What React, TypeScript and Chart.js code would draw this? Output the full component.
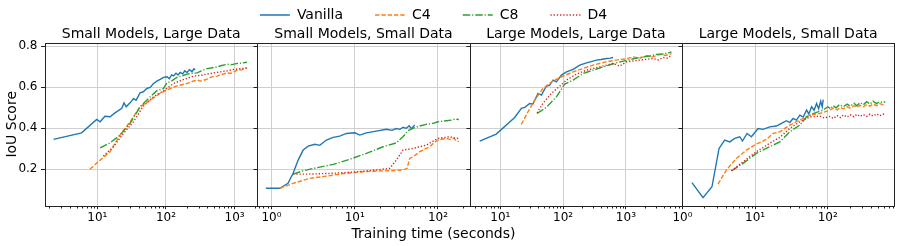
import React, { useEffect, useRef } from 'react';
import { Chart, registerables } from 'chart.js';

Chart.register(...registerables);

// ---------- labels ----------
const seriesNames = ['Vanilla', 'C4', 'C8', 'D4'];
const panelTitles = [
  'Small Models, Large Data',
  'Small Models, Small Data',
  'Large Models, Large Data',
  'Large Models, Small Data',
];
const xTitle = 'Training time (seconds)';
const yTitle = 'IoU Score';
const yTicks = [0.2, 0.4, 0.6, 0.8];
const yRange = [0.023, 0.816];

// x-axis limits per panel (log scale) and labelled decades
const p1Range = [1.73, 2140];
const p2Range = [0.676, 240];
const p3Range = [3.24, 7820];
const p4Range = [0.985, 826];
const p1Decades = [1, 10, 100, 1000];
const p2Decades = [0.1, 1, 10, 100];
const p3Decades = [1, 10, 100, 1000];
const p4Decades = [0.1, 1, 10, 100];

// ---------- Panel 1: Small Models, Large Data ----------
const p1VanillaT = [2.3, 5.9, 9.8, 11, 12.9, 15.3, 18.1, 22.7, 24.5, 26.3, 30, 33.6, 36.7, 42, 46.8, 52.5, 58.7, 65.8, 73.6, 82.3, 92, 103, 112, 121, 129, 140, 150, 161, 175, 188, 202, 220, 240, 255, 267];
const p1VanillaV = [0.346, 0.378, 0.443, 0.432, 0.459, 0.456, 0.475, 0.497, 0.524, 0.505, 0.524, 0.544, 0.537, 0.573, 0.578, 0.594, 0.599, 0.618, 0.630, 0.638, 0.648, 0.651, 0.642, 0.660, 0.655, 0.668, 0.660, 0.672, 0.665, 0.680, 0.672, 0.686, 0.676, 0.690, 0.684];
const p1C4T = [7.8, 11, 15.3, 21.4, 30, 42, 58.7, 82, 103, 144, 202, 240, 282, 330, 395, 460, 553, 650, 776, 900, 1084, 1300, 1515];
const p1C4V = [0.201, 0.245, 0.286, 0.367, 0.432, 0.505, 0.537, 0.570, 0.586, 0.607, 0.618, 0.628, 0.635, 0.630, 0.640, 0.650, 0.654, 0.662, 0.670, 0.668, 0.683, 0.686, 0.694];
const p1C8T = [11, 15.3, 21.4, 30, 42, 58.7, 73.6, 92, 103, 120, 144, 170, 202, 240, 282, 330, 395, 460, 553, 650, 776, 920, 1084, 1300, 1515];
const p1C8V = [0.305, 0.329, 0.367, 0.424, 0.505, 0.553, 0.583, 0.594, 0.621, 0.630, 0.648, 0.655, 0.664, 0.668, 0.670, 0.680, 0.691, 0.694, 0.699, 0.706, 0.712, 0.710, 0.716, 0.718, 0.722];
const p1D4T = [12.2, 17.2, 24, 33.6, 46.8, 65.8, 92, 129, 180, 252, 320, 395, 500, 620, 780, 975, 1200, 1515];
const p1D4V = [0.265, 0.310, 0.375, 0.432, 0.508, 0.553, 0.583, 0.618, 0.638, 0.654, 0.658, 0.664, 0.670, 0.675, 0.680, 0.687, 0.690, 0.694];

// ---------- Panel 2: Small Models, Small Data ----------
const p2VanillaT = [0.855, 1.26, 1.58, 1.82, 2.09, 2.4, 2.76, 3.31, 3.8, 4.57, 5.5, 6.6, 7.94, 10, 11.5, 13.8, 18.2, 24, 28, 31.6, 35, 38, 41.7, 45, 48, 52.5];
const p2VanillaV = [0.108, 0.108, 0.132, 0.181, 0.245, 0.294, 0.313, 0.322, 0.317, 0.343, 0.356, 0.362, 0.375, 0.378, 0.367, 0.378, 0.386, 0.395, 0.390, 0.399, 0.395, 0.405, 0.400, 0.412, 0.398, 0.416];
const p2C4T = [1.26, 1.82, 2.88, 4.57, 7.24, 11.5, 18.2, 26.3, 38, 42.6, 45.7, 50, 60.3, 70, 79.4, 90, 100, 115, 126, 140, 155, 165, 178];
const p2C4V = [0.108, 0.132, 0.156, 0.167, 0.179, 0.187, 0.192, 0.193, 0.197, 0.205, 0.253, 0.261, 0.286, 0.300, 0.310, 0.330, 0.343, 0.348, 0.351, 0.345, 0.352, 0.340, 0.335];
const p2C8T = [1.82, 2.4, 3.47, 5.5, 8.7, 13.8, 21.9, 31.6, 38, 43.6, 50, 60.3, 70, 87, 100, 126, 145, 160, 178];
const p2C8V = [0.177, 0.193, 0.208, 0.224, 0.249, 0.278, 0.310, 0.329, 0.359, 0.388, 0.400, 0.411, 0.418, 0.424, 0.432, 0.437, 0.440, 0.445, 0.443];
const p2D4T = [1.82, 2.88, 5.5, 10.5, 18.2, 26.3, 31.6, 38, 50, 72.4, 100, 120, 138, 160, 178];
const p2D4V = [0.177, 0.177, 0.181, 0.188, 0.197, 0.205, 0.245, 0.294, 0.302, 0.318, 0.351, 0.355, 0.359, 0.352, 0.351];

// ---------- Panel 3: Large Models, Large Data ----------
const p3VanillaT = [4.68, 8.6, 16.9, 21.6, 24.5, 29.3, 33, 39.8, 45, 54, 61, 69, 78, 94, 113, 144, 184, 236, 280, 339, 400, 490, 560, 625];
const p3VanillaV = [0.338, 0.372, 0.453, 0.497, 0.502, 0.521, 0.518, 0.570, 0.562, 0.605, 0.610, 0.635, 0.626, 0.659, 0.675, 0.687, 0.708, 0.719, 0.725, 0.732, 0.735, 0.740, 0.742, 0.745];
const p3C4T = [21.6, 27.5, 35.2, 47.6, 69, 100, 144, 207, 300, 490, 795, 1000, 1300, 1700, 2130, 2700, 3470, 4300, 5330];
const p3C4V = [0.419, 0.480, 0.537, 0.594, 0.631, 0.654, 0.675, 0.691, 0.708, 0.724, 0.735, 0.738, 0.748, 0.742, 0.753, 0.748, 0.760, 0.755, 0.764];
const p3C8T = [38.4, 54, 78, 106, 144, 207, 300, 432, 708, 1150, 1500, 1880, 2400, 3090, 4000, 5330];
const p3C8V = [0.472, 0.502, 0.553, 0.615, 0.635, 0.667, 0.683, 0.699, 0.719, 0.735, 0.742, 0.748, 0.752, 0.760, 0.762, 0.772];
const p3D4T = [38.4, 47.6, 65, 88, 113, 163, 236, 380, 625, 795, 1020, 1300, 1660, 2100, 2690, 3300, 3890, 4600, 5330];
const p3D4V = [0.475, 0.521, 0.570, 0.605, 0.635, 0.664, 0.683, 0.699, 0.716, 0.703, 0.724, 0.728, 0.732, 0.736, 0.740, 0.733, 0.745, 0.742, 0.756];

// ---------- Panel 4: Large Models, Small Data ----------
const p4VanillaT = [1.35, 1.92, 2.55, 3.19, 3.82, 4.48, 5.25, 6.15, 6.7, 7.76, 8.9, 11, 12.9, 15.9, 19.7, 23.1, 27.1, 30, 33.4, 37, 41.4, 46, 51.2, 55, 60, 65, 70.3, 75, 80, 84, 86.7];
const p4VanillaV = [0.135, 0.062, 0.115, 0.302, 0.343, 0.334, 0.351, 0.359, 0.338, 0.375, 0.359, 0.399, 0.395, 0.407, 0.411, 0.424, 0.437, 0.428, 0.448, 0.440, 0.464, 0.455, 0.489, 0.470, 0.505, 0.488, 0.521, 0.495, 0.532, 0.505, 0.540];
const p4C4T = [3.09, 4.03, 5.53, 7.6, 10.4, 14.4, 17.7, 21.9, 30.1, 41.4, 56.9, 78, 107, 120, 135, 150, 164, 185, 205, 230, 251, 280, 310, 345, 382, 420, 470, 520, 583, 620];
const p4C4V = [0.128, 0.197, 0.253, 0.294, 0.323, 0.346, 0.375, 0.383, 0.416, 0.440, 0.464, 0.472, 0.489, 0.498, 0.490, 0.502, 0.495, 0.505, 0.498, 0.510, 0.502, 0.512, 0.505, 0.515, 0.508, 0.518, 0.510, 0.520, 0.515, 0.518];
const p4C8T = [4.72, 6.84, 10.4, 15.9, 21.9, 30.1, 41.4, 51.2, 63, 86.7, 100, 110, 119, 130, 145, 164, 185, 205, 230, 251, 280, 310, 345, 382, 420, 470, 520, 583, 620];
const p4C8V = [0.193, 0.229, 0.278, 0.310, 0.334, 0.383, 0.416, 0.456, 0.472, 0.489, 0.505, 0.495, 0.510, 0.500, 0.515, 0.505, 0.518, 0.508, 0.522, 0.510, 0.525, 0.515, 0.530, 0.518, 0.532, 0.520, 0.530, 0.525, 0.530];
const p4D4T = [4.72, 6.84, 10.4, 15.9, 21.9, 30.1, 41.4, 56.9, 78, 90, 107, 120, 135, 150, 164, 185, 205, 230, 251, 280, 310, 345, 382, 420, 470, 520, 583, 620];
const p4D4V = [0.193, 0.237, 0.286, 0.327, 0.356, 0.399, 0.432, 0.456, 0.459, 0.450, 0.458, 0.448, 0.462, 0.452, 0.465, 0.455, 0.466, 0.456, 0.468, 0.458, 0.467, 0.458, 0.469, 0.460, 0.470, 0.461, 0.469, 0.463];

const panels = [
  { range: p1Range, decades: p1Decades, series: [[p1VanillaT, p1VanillaV], [p1C4T, p1C4V], [p1C8T, p1C8V], [p1D4T, p1D4V]] },
  { range: p2Range, decades: p2Decades, series: [[p2VanillaT, p2VanillaV], [p2C4T, p2C4V], [p2C8T, p2C8V], [p2D4T, p2D4V]] },
  { range: p3Range, decades: p3Decades, series: [[p3VanillaT, p3VanillaV], [p3C4T, p3C4V], [p3C8T, p3C8V], [p3D4T, p3D4V]] },
  { range: p4Range, decades: p4Decades, series: [[p4VanillaT, p4VanillaV], [p4C4T, p4C4V], [p4C8T, p4C8V], [p4D4T, p4D4V]] },
];

// ---------- styles ----------
const colors = ['#1f77b4', '#ff7f0e', '#2ca02c', '#d62728'];
const dashes = [[], [4.4, 1.9], [7.5, 1.9, 1.2, 1.9], [1.3, 1.9]];
const LINE_W = 1.4;
const GRID = '#cfcfcf';
const SPINE = '#222';
const FONT = 'DejaVu Sans';

const SUP: Record<string, string> = { '-': '⁻', '0': '⁰', '1': '¹', '2': '²', '3': '³', '4': '⁴', '5': '⁵' };
const isDecade = (v: number) => v > 0 && Math.abs(Math.log10(v) - Math.round(Math.log10(v))) < 1e-9;
const decadeLabel = (v: number) => '10' + String(Math.round(Math.log10(v))).split('').map((c) => SUP[c] || c).join('');

function logTicks(range: number[], decades: number[]) {
  const out: number[] = [];
  decades.forEach((d) => {
    for (let k = 1; k <= 9; k++) {
      const v = +(k * d).toPrecision(6);
      if (v >= range[0] && v <= range[1]) out.push(v);
    }
  });
  return out;
}

const panelFramePlugin = {
  id: 'panelFrames',
  afterDatasetsDraw(chart: any) {
    const { ctx, chartArea } = chart;
    const ys = chart.scales.y;
    ctx.save();
    ctx.strokeStyle = SPINE;
    ctx.lineWidth = 1;
    const top = Math.round(chartArea.top) + 0.5;
    const bottom = Math.round(chartArea.bottom) + 0.5;
    panels.forEach((_, i) => {
      const s = chart.scales['x' + (i + 1)];
      const l = Math.round(s.left) + 0.5;
      const r = Math.round(s.right) + 0.5;
      ctx.strokeRect(l, top, r - l, bottom - top);
      // minor x ticks (shorter than the major ones)
      s.ticks.forEach((t: any) => {
        if (isDecade(t.value)) return;
        const px = Math.round(s.getPixelForValue(t.value)) + 0.5;
        ctx.beginPath();
        ctx.moveTo(px, bottom);
        ctx.lineTo(px, bottom + 2);
        ctx.stroke();
      });
      if (i > 0) {
        yTicks.forEach((v) => {
          const py = Math.round(ys.getPixelForValue(v)) + 0.5;
          ctx.beginPath();
          ctx.moveTo(l - 4, py);
          ctx.lineTo(l, py);
          ctx.stroke();
        });
      }
    });
    ctx.restore();
  },
};

export default function App() {
  const ref = useRef<HTMLCanvasElement | null>(null);

  useEffect(() => {
    if (!ref.current) return;
    Chart.defaults.font.family = FONT;
    Chart.defaults.color = '#000';

    const datasets: any[] = [];
    panels.forEach((p, pi) => {
      p.series.forEach(([ts, vs], si) => {
        datasets.push({
          label: seriesNames[si],
          data: ts.map((t, k) => ({ x: t, y: vs[k] })),
          xAxisID: 'x' + (pi + 1),
          yAxisID: 'y',
          borderColor: colors[si],
          backgroundColor: colors[si],
          borderWidth: LINE_W,
          borderDash: dashes[si],
          pointRadius: 0,
          tension: 0,
          fill: false,
          order: 4 - si,
        });
      });
    });

    const scales: any = {
      y: {
        type: 'linear',
        position: 'left',
        min: yRange[0],
        max: yRange[1],
        bounds: 'data',
        afterBuildTicks: (s: any) => {
          s.ticks = yTicks.map((v) => ({ value: v }));
        },
        afterFit: (s: any) => {
          s.width = 72.3;
        },
        ticks: { callback: (v: any) => Number(v).toFixed(1), font: { size: 12 }, padding: 3.5, color: '#000' },
        grid: { color: GRID, tickColor: SPINE, tickLength: 4, lineWidth: 1 },
        border: { display: false },
        title: { display: true, text: yTitle, font: { size: 14 }, padding: { top: 30.9, bottom: 0 }, color: '#000' },
      },
    };

    panels.forEach((p, i) => {
      const ticks = logTicks(p.range, p.decades);
      scales['x' + (i + 1)] = {
        type: 'logarithmic',
        position: 'bottom',
        stack: 'panelsBottom',
        stackWeight: 1,
        min: p.range[0],
        max: p.range[1],
        bounds: 'data',
        afterBuildTicks: (s: any) => {
          s.ticks = ticks.map((v) => ({ value: v }));
        },
        afterFit: (s: any) => {
          s.height = 20;
        },
        ticks: {
          autoSkip: false,
          maxRotation: 0,
          minRotation: 0,
          padding: 1.5,
          font: { size: 12 },
          color: '#000',
          callback: (v: any) => (isDecade(Number(v)) ? decadeLabel(Number(v)) : ''),
        },
        grid: {
          color: (c: any) => (c.tick && isDecade(c.tick.value) ? GRID : 'rgba(0,0,0,0)'),
          tickColor: (c: any) => (c.tick && isDecade(c.tick.value) ? SPINE : 'rgba(0,0,0,0)'),
          tickLength: 3.5,
          lineWidth: 1,
        },
        border: { display: false },
      };
      scales['t' + (i + 1)] = {
        type: 'linear',
        position: 'top',
        stack: 'panelsTop',
        stackWeight: 1,
        weight: panels.length - i,
        display: true,
        min: 0,
        max: 1,
        afterFit: (s: any) => {
          s.height = 20.8;
        },
        grid: { display: false, drawTicks: false },
        ticks: { display: false },
        border: { display: false },
        title: { display: true, text: panelTitles[i], font: { size: 14 }, padding: { top: 4, bottom: 0 }, color: '#000' },
      };
    });

    const defaultLabels = (Chart.defaults as any).plugins.legend.labels.generateLabels;

    const chart = new Chart(ref.current, {
      type: 'line',
      data: { datasets },
      options: {
        animation: false,
        responsive: false,
        maintainAspectRatio: false,
        layout: { padding: { left: -27.3, right: 5.7, top: -24, bottom: 3.5 } },
        scales,
        plugins: {
          legend: {
            display: true,
            position: 'top',
            align: 'center',
            maxHeight: 46.1,
            labels: {
              usePointStyle: true,
              pointStyle: 'line',
              pointStyleWidth: 30,
              padding: 32,
              font: { size: 14 },
              color: '#000',
              generateLabels: (c: any) =>
                defaultLabels(c).map((item: any) => {
                  const ds = c.data.datasets[item.datasetIndex];
                  return { ...item, lineDash: ds.borderDash, lineWidth: ds.borderWidth, strokeStyle: ds.borderColor };
                }),
              filter: (item: any) => item.datasetIndex < 4,
              sort: (a: any, b: any) => a.datasetIndex - b.datasetIndex,
            },
          },
          title: {
            display: true,
            position: 'bottom',
            text: xTitle,
            font: { size: 14, weight: 'normal' },
            padding: { top: 0, bottom: 0 },
            color: '#000',
          },
          tooltip: { enabled: false },
        },
      } as any,
      plugins: [panelFramePlugin],
    });

    return () => chart.destroy();
  }, []);

  return (
    <div style={{ position: 'fixed', left: 0, top: 0, width: 900, height: 246, background: '#fff' }}>
      <canvas ref={ref} width={900} height={246} style={{ width: 900, height: 246, display: 'block' }} />
    </div>
  );
}
